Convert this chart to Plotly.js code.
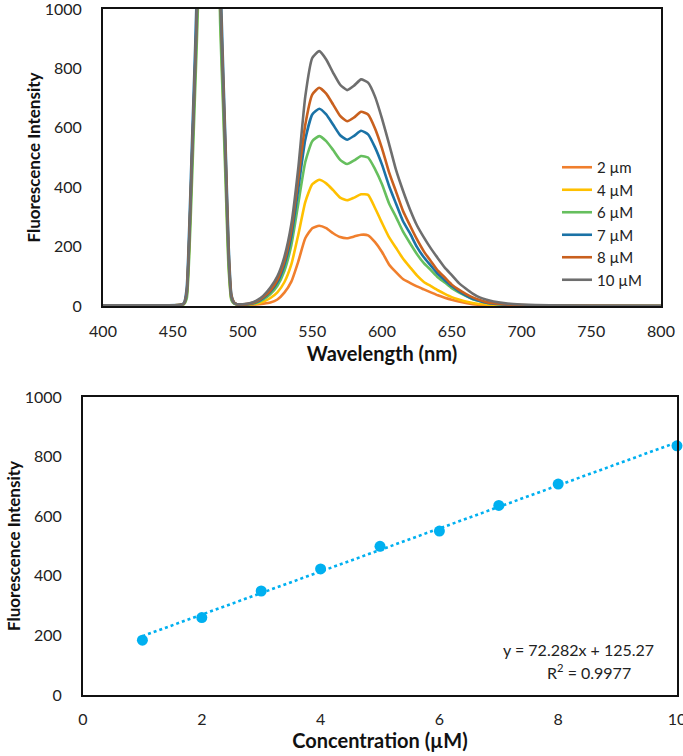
<!DOCTYPE html>
<html><head><meta charset="utf-8">
<script src="https://cdn.plot.ly/plotly-3.0.1.min.js"></script>
<style>html,body{margin:0;padding:0;background:#fff}#chart{width:683px;height:756px}</style>
</head><body><div id="chart"></div>
<script>
// ---- Top chart: emission spectra ----
const wavelength = [400,440,455,458,460,462,464,466,468,470,475,480,482,484,486,488,490,492,494,496,500,505,510,515,520,525,530,535,540,545,550,555,560,565,570,575,580,585,590,595,600,605,610,615,620,625,630,635,640,645,650,655,660,665,670,675,680,690,700,720,750,800];

const seriesNames = ['2 µm','4 µM','6 µM','7 µM','8 µM','10 µM'];
const seriesColors = ['#F07F2D','#FFC000','#66BF5E','#1A72A6','#C9601E','#6E6E6E'];

const spec2 = [2,2,3,8,42,245,525,795,1080,1950,3000,3000,1900,1020,740,460,160,28,10,5,3,4,5,8,12,22,45,82,150,228,262,270,262,245,232,228,234,240,238,215,182,140,114,91,78,66,56,46,36,28,21,15,10,6,4,3,2,1,0.5,0,0,0];
const spec4 = [2,2,3,7,35,220,500,770,1050,1900,3000,3000,1800,1000,720,440,150,25,9,5,3,5,8,15,27,46,80,140,240,350,410,425,413,390,365,356,365,376,374,330,280,232,196,160,131,103,81,67,53,41,30,22,15,10,7,5,3,2,1,0,0,0];
const spec6 = [2,2,2,6,25,190,450,720,1000,1800,3000,3000,1500,950,680,400,130,20,8,5,4,6,11,22,40,68,118,205,345,485,555,572,555,525,492,478,490,505,500,461,410,346,300,251,212,175,144,121,97,79,60,46,34,23,17,11,8,4,2,1,0,0];
const spec7 = [2,2,4,10,60,290,580,860,1200,2100,3000,3000,2100,1150,820,520,210,40,12,6,5,7,13,27,48,80,138,235,395,560,645,664,645,610,575,560,573,590,578,534,476,405,345,286,245,199,164,136,108,87,67,50,36,24,17,11,8,4,2,1,1,0];
const spec8 = [2,2,3,8,45,250,530,800,1100,2000,3000,3000,2000,1080,780,490,185,35,11,6,5,8,15,30,52,88,150,255,430,610,712,735,715,678,640,622,635,654,645,598,531,451,386,321,272,225,184,151,119,96,72,55,41,29,20,13,9,5,3,1,1,0];
const spec10 = [2,2,3,8,40,240,520,790,1100,2000,3000,3000,2000,1050,760,470,170,30,10,6,6,9,18,35,62,100,165,275,465,705,835,858,830,785,745,727,742,763,752,705,631,547,459,389,326,272,231,194,161,129,104,78,59,42,29,21,15,8,5,2,1,1];
const spectra = [spec2,spec4,spec6,spec7,spec8,spec10];

const wlTicks = [400,450,500,550,600,650,700,750,800];
const intTicks = [0,200,400,600,800,1000];

// ---- Bottom chart: calibration ----
const concentration = [1,2,3,4,5,6,7,8,10];
const intensity = [184,260,349,423,499,550,636,708,836];
const fitSlope = 72.282;
const fitIntercept = 125.27;
const fitR2 = 0.9977;
const concTicks = [0,2,4,6,8,10];

const traces = [];
spectra.forEach((s, i) => {
  traces.push({
    x: wavelength, y: s, type: 'scatter', mode: 'lines', name: seriesNames[i],
    line: {color: seriesColors[i], width: 2.6, shape: 'spline', smoothing: 0.5}, xaxis: 'x', yaxis: 'y'
  });
});
traces.push({
  x: concentration, y: intensity, type: 'scatter', mode: 'markers',
  marker: {color: '#00B0F0', size: 11}, showlegend: false, xaxis: 'x2', yaxis: 'y2', cliponaxis: false
});
const fitX = [concentration[0], concentration[concentration.length - 1]];
traces.push({
  x: fitX, y: fitX.map(v => fitSlope * v + fitIntercept), type: 'scatter', mode: 'lines',
  line: {color: '#00B0F0', width: 2.6, dash: 'dot'}, showlegend: false, xaxis: 'x2', yaxis: 'y2'
});

const FONT = 'Lato, "Open Sans", sans-serif';
const tickFont = {family: FONT, size: 16, color: '#222'};
const yTitleFont = {family: FONT, size: 17, color: '#111', weight: 'bold'};
const xTitleFont = {family: FONT, size: 20, color: '#111', weight: 'bold'};
const axisBase = {showgrid: false, zeroline: false, showline: true, mirror: true, linecolor: '#111', linewidth: 2,
  ticks: '', tickfont: tickFont, ticklabeloverflow: 'allow'};

const W = 683, H = 756;
const layout = {
  width: W, height: H, margin: {l: 0, r: 0, t: 0, b: 0},
  paper_bgcolor: '#fff', plot_bgcolor: '#fff',
  showlegend: true,
  legend: {x: 557 / W, y: 1 - 151 / H, xanchor: 'left', yanchor: 'top', bgcolor: 'rgba(0,0,0,0)',
           font: {family: FONT, size: 15, color: '#222'}, tracegroupgap: 0},
  xaxis: Object.assign({}, axisBase, {domain: [103 / W, 661 / W], range: [400, 800], tickvals: wlTicks,
    ticklabelstandoff: 10, anchor: 'y',
    title: {text: 'Wavelength (nm)', font: xTitleFont, standoff: 8}}),
  yaxis: Object.assign({}, axisBase, {domain: [1 - 306 / H, 1 - 9 / H], range: [0, 1000], tickvals: intTicks,
    ticklabelstandoff: 16, anchor: 'x',
    title: {text: 'Fluorescence Intensity', font: yTitleFont, standoff: 0}}),
  xaxis2: Object.assign({}, axisBase, {domain: [83 / W, 677 / W], range: [0, 10], tickvals: concTicks,
    ticklabelstandoff: 9, anchor: 'y2',
    title: {text: 'Concentration (µM)', font: xTitleFont, standoff: 6}}),
  yaxis2: Object.assign({}, axisBase, {domain: [1 - 695 / H, 1 - 397 / H], range: [0, 1000], tickvals: intTicks,
    ticklabelstandoff: 16, anchor: 'x2',
    title: {text: 'Fluorescence Intensity', font: yTitleFont, standoff: 0}}),
  annotations: [
    {xref: 'x2', yref: 'y2', x: 8.35, y: 152, text: 'y = ' + fitSlope + 'x + ' + fitIntercept,
     showarrow: false, font: {family: FONT, size: 16, color: '#222'}, xanchor: 'center'},
    {xref: 'x2', yref: 'y2', x: 8.52, y: 80, text: 'R<sup>2</sup> = ' + fitR2,
     showarrow: false, font: {family: FONT, size: 16, color: '#222'}, xanchor: 'center'}
  ]
};

Plotly.newPlot('chart', traces, layout, {staticPlot: true, displayModeBar: false});
</script>
</body></html>
